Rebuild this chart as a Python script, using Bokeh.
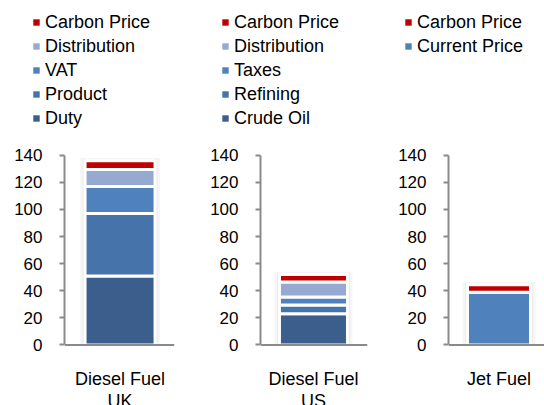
from bokeh.plotting import figure
from bokeh.models import Range1d, FixedTicker, Legend, LegendItem, Span, ColumnDataSource
from bokeh.layouts import row, column
from bokeh.embed import file_html
from bokeh.resources import INLINE
from bokeh.core.properties import value

# ---------------- data ----------------
uk_categories = ["Diesel Fuel\nUK"]
uk_series = ["Duty", "Product", "VAT", "Distribution", "Carbon Price"]
uk_duty = [51]
uk_product = [46]
uk_vat = [20]
uk_distribution = [12.5]
uk_carbon = [6.5]

us_categories = ["Diesel Fuel\nUS"]
us_series = ["Crude Oil", "Refining", "Taxes", "Distribution", "Carbon Price"]
us_crude = [23]
us_refining = [6.5]
us_taxes = [6]
us_distribution = [11]
us_carbon = [5.5]

jet_categories = ["Jet Fuel"]
jet_series = ["Current Price", "Carbon Price"]
jet_current = [39]
jet_carbon = [5.5]

y_ticks = [0, 20, 40, 60, 80, 100, 120, 140]

# ---------------- style ----------------
FONT = "Liberation Sans"
AXIS_GRAY = "#8a8a8a"
C_CARBON = "#C00000"
C_DIST = "#95A9D1"
C_MID = "#4F81BD"
C_PROD = "#4674AA"
C_BASE = "#3B5E8C"

TOTAL_W = 544
LEGEND_H = 140
CHART_H = 265

# one strip holding the three legends, above the charts
lg = figure(width=TOTAL_W, height=LEGEND_H, output_backend="svg", toolbar_location=None,
            x_range=Range1d(0, 1), y_range=Range1d(0, 1),
            x_axis_location=None, y_axis_location=None, min_border=0,
            background_fill_color="white", border_fill_color="white")
lg.outline_line_color = None
lg.grid.visible = False


def add_legend(names, colors, legend_x, legend_y):
    items = []
    for n, c in zip(names, colors):
        # placeholder renderer (outside the visible range) that only feeds the legend swatch
        r = lg.vbar(x=[-5], top=[-5], bottom=[-6], width=0.5, fill_color=c, line_color=None)
        items.append(LegendItem(label=n, renderers=[r]))
    leg = Legend(items=items[::-1], location=(legend_x, legend_y), glyph_width=8,
                 glyph_height=8, label_height=24, spacing=0, padding=0, margin=0,
                 label_standoff=5, label_text_font=FONT, label_text_font_size="18px",
                 label_text_color="black", background_fill_alpha=0,
                 border_line_alpha=0)
    lg.add_layout(leg)


def make_panel(categories, names, values, colors, width, border_left, border_right,
               x_range, bar_px):
    frame_px = width - border_left - border_right
    span = x_range[1] - x_range[0]
    bw = bar_px / frame_px * span

    data = {"x": list(range(len(categories))), "label": categories}
    for n, v in zip(names, values):
        data[n] = v
    data["total"] = [sum(t) for t in zip(*values)]
    data["glow1"] = [t + 2.0 for t in data["total"]]
    data["glow2"] = [t + 1.0 for t in data["total"]]
    src = ColumnDataSource(data)

    p = figure(width=width, height=CHART_H, output_backend="svg", toolbar_location=None,
               x_range=Range1d(*x_range), y_range=Range1d(-44.65, 150.9),
               x_axis_location=None, min_border_left=border_left,
               min_border_right=border_right, min_border_top=0, min_border_bottom=0,
               background_fill_color="white", border_fill_color="white")
    p.outline_line_color = None
    p.grid.visible = False

    # soft shadow behind bars
    p.vbar(x="x", top="glow1", bottom=0, width=bw + 10 / frame_px * span,
           source=src, fill_color="black", fill_alpha=0.035, line_color=None)
    p.vbar(x="x", top="glow2", bottom=0, width=bw + 5 / frame_px * span,
           source=src, fill_color="black", fill_alpha=0.045, line_color=None)

    p.vbar_stack(names, x="x", width=bw, source=src,
                 color=colors, line_color="white", line_width=3)

    # x axis line at zero
    p.add_layout(Span(location=0, dimension="width", line_color=AXIS_GRAY, line_width=2))

    ax = p.yaxis[0]
    ax.ticker = FixedTicker(ticks=y_ticks)
    ax.bounds = (0, 140)
    ax.axis_line_color = AXIS_GRAY
    ax.axis_line_width = 2
    ax.major_tick_line_color = AXIS_GRAY
    ax.major_tick_line_width = 2
    ax.major_tick_out = 5
    ax.major_tick_in = 0
    ax.minor_tick_line_color = None
    ax.major_label_standoff = 17
    ax.major_label_text_font = FONT
    ax.major_label_text_font_size = "17px"
    ax.major_label_text_color = "black"

    p.text(x="x", y=0, text="label", source=src, y_offset=24, text_align="center",
           text_baseline="top", text_font=value(FONT), text_font_size="18px",
           text_color="black", text_line_height=1.1)
    return p


uk_colors = [C_BASE, C_PROD, C_MID, C_DIST, C_CARBON]
us_colors = [C_BASE, C_PROD, C_MID, C_DIST, C_CARBON]
jet_colors = [C_MID, C_CARBON]

p1 = make_panel(uk_categories, uk_series,
                [uk_duty, uk_product, uk_vat, uk_distribution, uk_carbon],
                uk_colors, 184, 64, 10, (-0.505, 0.495), 70)
p2 = make_panel(us_categories, us_series,
                [us_crude, us_refining, us_taxes, us_distribution, us_carbon],
                us_colors, 184, 76, 1, (-0.495, 0.505), 68)
p3 = make_panel(jet_categories, jet_series, [jet_current, jet_carbon],
                jet_colors, 176, 80, 0, (-0.526, 0.474), 63)

add_legend(uk_series, uk_colors, 32, 10)
add_legend(us_series, us_colors, 221, 10)
add_legend(jet_series, jet_colors, 404, 82)

layout = column(lg, row(p1, p2, p3, spacing=0), spacing=0)
open("out.html", "w").write(file_html(layout, INLINE))
